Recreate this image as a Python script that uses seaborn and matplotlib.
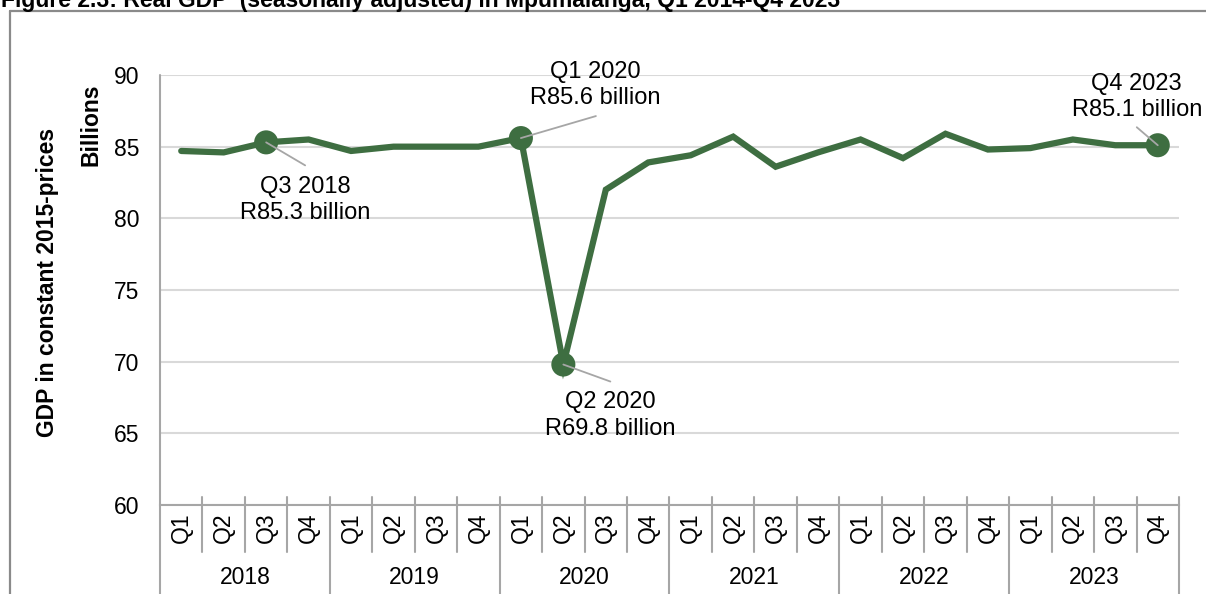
import matplotlib
matplotlib.use("Agg")
import matplotlib.pyplot as plt
from matplotlib.lines import Line2D
from matplotlib.transforms import blended_transform_factory
import numpy as np
import pandas as pd
import seaborn as sns

# Quarterly real GDP, Mpumalanga (R billion, constant 2015 prices)
years = ["2018", "2019", "2020", "2021", "2022", "2023"]
quarters = ["Q1", "Q2", "Q3", "Q4"]
gdp = [84.7, 84.6, 85.3, 85.5,
       84.7, 85.0, 85.0, 85.0,
       85.6, 69.8, 82.0, 83.9,
       84.4, 85.7, 83.6, 84.6,
       85.5, 84.2, 85.9, 84.8,
       84.9, 85.5, 85.1, 85.1]

# Highlighted quarters: (year, quarter)
highlights = [("2018", "Q3"), ("2020", "Q1"), ("2020", "Q2"), ("2023", "Q4")]
y_ticks = [60, 65, 70, 75, 80, 85, 90]

title = "Figure 2.3: Real GDP  (seasonally adjusted) in Mpumalanga, Q1 2014-Q4 2023"
y_title = "GDP in constant 2015-prices"
unit_title = "Billions"

sns.set_theme(style="white")
plt.rcParams["font.family"] = ["Liberation Sans", "DejaVu Sans"]
plt.rcParams["text.color"] = "#000000"
plt.rcParams["ytick.color"] = "#000000"
plt.rcParams["xtick.color"] = "#000000"

W, H = 1206, 594
fig = plt.figure(figsize=(W / 100, H / 100), dpi=100)
ax_l, ax_r, ax_t, ax_b = 160, 1179, 75, 505
ax = fig.add_axes([ax_l / W, 1 - ax_b / H, (ax_r - ax_l) / W, (ax_b - ax_t) / H])

df = pd.DataFrame({
    "year": np.repeat(years, len(quarters)),
    "quarter": quarters * len(years),
    "gdp": gdp,
})
df["pos"] = np.arange(len(df))

green = "#3e6e41"
grey_line = "#a6a6a6"
fs = 16.5
fs_note = 17

sns.lineplot(data=df, x="pos", y="gdp", ax=ax, color=green, linewidth=4.5,
             solid_joinstyle="miter", solid_capstyle="round", legend=False)

hl = df[df[["year", "quarter"]].apply(tuple, axis=1).isin(highlights)]
sns.scatterplot(data=hl, x="pos", y="gdp", ax=ax, color=green, s=300,
                edgecolor="none", zorder=5, legend=False)

ax.set_xlim(-0.5, len(df) - 0.5)
ax.set_ylim(60, 90)
ax.set_yticks(y_ticks)
ax.set_yticklabels([str(t) for t in y_ticks], fontsize=fs, color="#000000")
ax.tick_params(axis="y", length=0, pad=15)
ax.set_xticks([])
ax.set_xlabel("")
ax.set_ylabel("")
ax.grid(axis="y", color="#d9d9d9", linewidth=1.5)
ax.grid(axis="x", visible=False)
for s in ["top", "right", "left"]:
    ax.spines[s].set_visible(False)
ax.spines["bottom"].set_color(grey_line)
ax.spines["bottom"].set_linewidth(1.5)

# Data callouts: label centre and leader end, in pixels from the marker
px = 72 / 100
callout_offsets = {
    ("2018", "Q3"): (39, 58, (39, 23)),
    ("2020", "Q1"): (74, -53, (75, -22)),
    ("2020", "Q2"): (47, 51, (47, 17)),
    ("2023", "Q4"): (-21, -48, (-21, -18)),
}
for _, row in hl.iterrows():
    key = (row["year"], row["quarter"])
    dx, dy, (lx, ly) = callout_offsets[key]
    text = f"{row['quarter']} {row['year']}\nR{row['gdp']:.1f} billion"
    ax.annotate("", xy=(row["pos"], row["gdp"]), xytext=(lx * px, -ly * px),
                textcoords="offset points",
                arrowprops=dict(arrowstyle="-", color=grey_line, lw=1.3,
                                shrinkA=0, shrinkB=0), zorder=6)
    ax.annotate(text, xy=(row["pos"], row["gdp"]), xytext=(dx * px, -dy * px),
                textcoords="offset points", ha="center", va="center",
                fontsize=fs_note, linespacing=1.25, zorder=7)

# Two-level category axis
tr = blended_transform_factory(ax.transData, ax.transAxes)
hpx = ax_b - ax_t
top_f = (ax_b - 497) / hpx
q_bot = -(552 - ax_b) / hpx
y_bot = -(H - ax_b + 2) / hpx
n = len(df)
for b in range(n + 1):
    xb = b - 0.5
    if b % 4 == 0:
        y0 = 1.0 if b == 0 else top_f
        ax.plot([xb, xb], [y0, y_bot], transform=tr, color=grey_line, lw=1.5,
                clip_on=False, zorder=1)
    else:
        ax.plot([xb, xb], [top_f, q_bot], transform=tr, color=grey_line, lw=1.5,
                clip_on=False, zorder=1)
for _, row in df.iterrows():
    ax.text(row["pos"], -(528 - ax_b) / hpx, row["quarter"], transform=tr,
            rotation=90, ha="center", va="center", fontsize=fs)
for i, yr in enumerate(years):
    ax.text(i * 4 + 1.5, -(578 - ax_b) / hpx, yr, transform=tr,
            ha="center", va="center", fontsize=fs)

# Axis titles
fig.text(48 / W, 1 - 282 / H, y_title, rotation=90, ha="center", va="center",
         fontsize=fs, fontweight="bold")
fig.text(91 / W, 1 - 125 / H, unit_title, rotation=90, ha="center", va="center",
         fontsize=fs, fontweight="bold")

# Chart frame and heading
frame = "#8a8a8a"
fig.add_artist(Line2D([10 / W, 1.0], [1 - 11 / H, 1 - 11 / H], color=frame, lw=1.6))
fig.add_artist(Line2D([10 / W, 10 / W], [1 - 11 / H, 0.0], color=frame, lw=1.6))
fig.text(1 / W, 1 - 7 / H, title, ha="left", va="baseline", fontsize=fs,
         fontweight="bold")

fig.savefig("out.png", dpi=100)
